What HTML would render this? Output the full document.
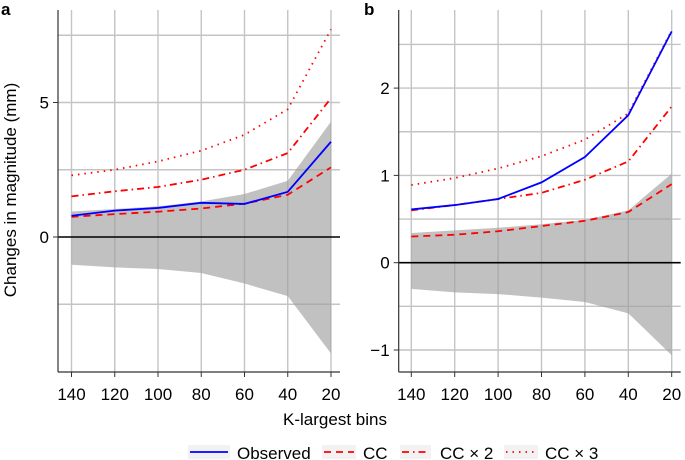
<!DOCTYPE html>
<html><head><meta charset="utf-8"><style>
body{margin:0;background:#fff;}
svg{display:block;font-family:"Liberation Sans",Arial,sans-serif;}
</style></head><body>
<svg id="chart" width="685" height="460" viewBox="0 0 685 460"></svg>
<script>
const categories=[140,120,100,80,60,40,20];
const aObserved=[0.79,0.98,1.08,1.27,1.23,1.68,3.54];
const aCC=[0.75,0.85,0.94,1.06,1.24,1.57,2.59];
const aCC2=[1.51,1.70,1.86,2.13,2.50,3.12,5.16];
const aCC3=[2.29,2.50,2.81,3.21,3.80,4.75,7.72];
const aBandHi=[0.95,1.04,1.14,1.32,1.60,2.09,4.29];
const aBandLo=[-1.03,-1.13,-1.19,-1.34,-1.73,-2.20,-4.33];
const bObserved=[0.61,0.66,0.73,0.92,1.21,1.69,2.65];
const bCC=[0.30,0.32,0.36,0.42,0.48,0.58,0.90];
const bCC2=[0.60,0.66,0.73,0.80,0.95,1.16,1.79];
const bCC3=[0.89,0.97,1.08,1.22,1.41,1.71,2.66];
const bBandHi=[0.34,0.37,0.40,0.44,0.49,0.60,1.02];
const bBandLo=[-0.30,-0.34,-0.36,-0.40,-0.45,-0.58,-1.06];
const aYTicks=[0,5];
const aYGrid=[-2.5,2.5,7.5];
const bYTicks=[-1,0,1,2];
const bYGrid=[-0.5,0.5,1.5,2.5];

const svg=document.getElementById('chart');
const NS='http://www.w3.org/2000/svg';
function el(tag,attrs,parent,text){const e=document.createElementNS(NS,tag);for(const k in attrs)e.setAttribute(k,attrs[k]);if(text!==undefined)e.textContent=text;(parent||svg).appendChild(e);return e;}

function panel(opt){
  const g=el('g',{});
  
  
  const xs=c=>opt.x140+(140-c)/20*opt.step;
  const ys=v=>opt.y0-v*opt.unit;
  const top=10,bot=372,right=opt.x140+6*opt.step+9;
  opt.grid.concat(opt.ticks.filter(t=>t!==0)).forEach(v=>{
    const l=el('line',{x1:opt.axisX,x2:right,y1:ys(v),y2:ys(v),stroke:'#c4c4c4','stroke-width':1.4},g);
    
    
  });
  categories.forEach(c=>{
    const l=el('line',{x1:xs(c),x2:xs(c),y1:top,y2:bot,stroke:'#c4c4c4','stroke-width':1.4},g);
    
    
  });
  let pts=categories.map((c,i)=>xs(c)+','+ys(opt.hi[i])).concat(categories.slice().reverse().map((c,j)=>{const i=categories.length-1-j;return xs(c)+','+ys(opt.lo[i]);}));
  const band=el('polygon',{points:pts.join(' '),fill:'#a0a0a0','fill-opacity':0.65},g);
  
  
  const z=el('line',{x1:opt.axisX,x2:right,y1:ys(0),y2:ys(0),stroke:'#000','stroke-width':1.6},g);
  
  
  const series=[[opt.cc3,'red','1.8','1.5 5','cc-x3-line'],[opt.cc2,'red','1.8','7 4 1.5 4','cc-x2-line'],[opt.cc,'red','1.8','7 5','cc-line'],[opt.obs,'#0000ff','1.8','','observed-line']];
  series.forEach(s=>{
    const p=el('polyline',{points:categories.map((c,i)=>xs(c)+','+ys(s[0][i])).join(' '),fill:'none',stroke:s[1],'stroke-width':s[2],'stroke-dasharray':s[3]},g);
    
    
  });
  const ya=el('line',{x1:opt.axisX,x2:opt.axisX,y1:top,y2:bot,stroke:'#333','stroke-width':1.2},g);
  
  
  const xa=el('line',{x1:opt.axisX,x2:right,y1:bot,y2:bot,stroke:'#333','stroke-width':1.2},g);
  
  
  opt.ticks.forEach(v=>{
    el('line',{x1:opt.axisX-5,x2:opt.axisX,y1:ys(v),y2:ys(v),stroke:'#333'},g);
    const t=el('text',{x:opt.axisX-9,y:ys(v)+6,'text-anchor':'end','font-size':17},g,v<0?'\u2212'+(-v):String(v));
    
    
  });
  categories.forEach(c=>{
    el('line',{x1:xs(c),x2:xs(c),y1:bot,y2:bot+5,stroke:'#333'},g);
    const t=el('text',{x:xs(c),y:400,'text-anchor':'middle','font-size':17},g,String(c));
    
    
  });
  const lb=el('text',{x:opt.lx,y:15,'font-size':17,'font-weight':'bold'},g,opt.label);
  
  
}
panel({label:'a',axisX:58,x140:71.5,step:43.25,y0:237,unit:26.9,ticks:aYTicks,grid:aYGrid,obs:aObserved,cc:aCC,cc2:aCC2,cc3:aCC3,hi:aBandHi,lo:aBandLo,lx:1});
panel({label:'b',axisX:398.7,x140:411.3,step:43.4,y0:262.7,unit:87.3,ticks:bYTicks,grid:bYGrid,obs:bObserved,cc:bCC,cc2:bCC2,cc3:bCC3,hi:bBandHi,lo:bBandLo,lx:364});

const yl=el('text',{x:0,y:0,transform:'translate(16,190) rotate(-90)','text-anchor':'middle','font-size':17},svg,'Changes in magnitude (mm)');


const xl=el('text',{x:335,y:425,'text-anchor':'middle','font-size':17},svg,'K-largest bins');



const legend=el('g',{});


const entries=[['#0000ff','',190,228,237,'Observed'],['red','7 5',324,354,363,'CC'],['red','7 4 1.5 4',402,429,440,'CC \u00d7 2'],['red','1.5 5',506,536,545,'CC \u00d7 3']];
entries.forEach(e=>{
  const g=el('g',{},legend);
  
  
  el('rect',{x:e[2]-2,y:445,width:e[3]-e[2]+4,height:14,fill:'#f2f2f2'},g);
  el('line',{x1:e[2],x2:e[3],y1:452,y2:452,stroke:e[0],'stroke-width':1.8,'stroke-dasharray':e[1]},g);
  el('text',{x:e[4],y:459,'font-size':17},g,e[5]);
});
</script>
</body></html>
